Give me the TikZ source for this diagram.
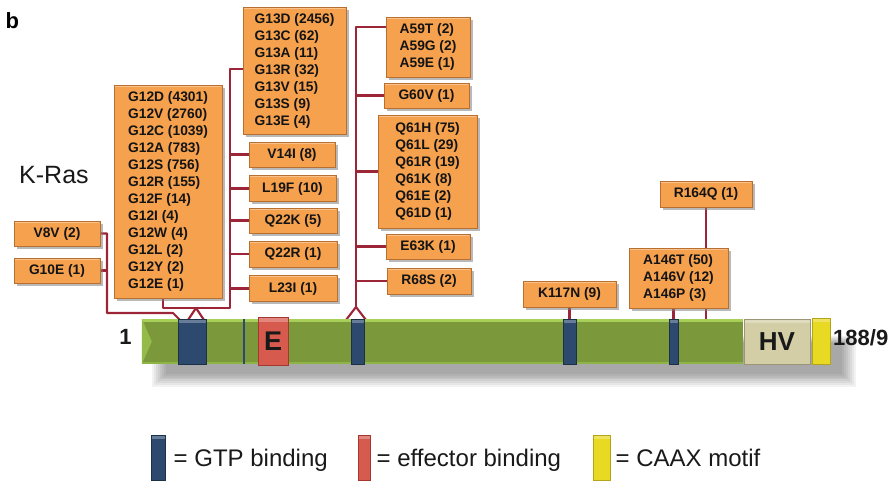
\documentclass[tikz,border=0pt]{standalone}
\usepackage{fontspec}
\setmainfont{Liberation Sans}
\usetikzlibrary{shadows}

\definecolor{mutfill}{HTML}{F6A14D}
\definecolor{mutedge}{HTML}{B87030}
\definecolor{link}{HTML}{9C2537}
\definecolor{gtpblue}{HTML}{2D4A6E}
\definecolor{gtpedge}{HTML}{1C3049}
\definecolor{effred}{HTML}{D65A4E}
\definecolor{effedge}{HTML}{A5372E}
\definecolor{hvtan}{HTML}{D4CEA7}
\definecolor{hvedge}{HTML}{9C9676}
\definecolor{caax}{HTML}{E8D923}
\definecolor{caaxedge}{HTML}{B3A517}
\definecolor{bargreen}{HTML}{7B993B}
\definecolor{barlight}{HTML}{A8CF58}
\definecolor{barbevel}{HTML}{94BA49}

\pgfdeclarelayer{back}
\pgfsetlayers{back,main}

\begin{document}
\begin{tikzpicture}[x=1pt,y=-1pt,
  mut/.style={draw=mutedge, line width=0.7pt, fill=mutfill, inner sep=0pt,
    align=left, text=black!92, font=\bfseries\fontsize{13.8}{17}\selectfont,
    drop shadow={opacity=0.55, shadow xshift=2.5pt, shadow yshift=-2.5pt},
    path picture={\draw[white,opacity=0.35,line width=1.2pt]
      ([xshift=1pt,yshift=-1pt]path picture bounding box.north west) --
      ([xshift=-1pt,yshift=-1pt]path picture bounding box.north east);}},
  conn/.style={draw=link, line width=2.1pt, line join=round},
  gloss/.style={path picture={\fill[white,opacity=0.28]
    (path picture bounding box.north west) rectangle
    ([yshift=-4pt]path picture bounding box.north east);}},
  gtpbox/.style={draw=gtpedge, line width=0.6pt, fill=gtpblue, inner sep=0pt, gloss},
  effbox/.style={draw=effedge, line width=0.6pt, fill=effred, inner sep=0pt, gloss},
  hvbox/.style={draw=hvedge, line width=0.6pt, fill=hvtan, inner sep=0pt, gloss},
  caaxbox/.style={draw=caaxedge, line width=0.6pt, fill=caax, inner sep=0pt, gloss},
  keytext/.style={inner sep=0pt, font=\fontsize{24}{24}\selectfont, text=black!90},
  endlabel/.style={inner sep=0pt, font=\bfseries\fontsize{22}{22}\selectfont, text=black!90}]

\useasboundingbox (0,0) rectangle (893,480);

% panel letter and protein name
\node[inner sep=0pt, anchor=base west, font=\bfseries\fontsize{22}{22}\selectfont] (panel) at (5.5,28) {b};
\node[inner sep=0pt, anchor=base west, font=\fontsize{25}{25}\selectfont, text=black!90] (kras) at (19,183) {K-Ras};

% mutation boxes
\node[mut, minimum width=86pt, minimum height=25pt] (v8v) at (57,233.5) {V8V (2)};
\node[mut, minimum width=86pt, minimum height=25pt] (g10e) at (57,270.5) {G10E (1)};
\node[mut, minimum width=108pt, minimum height=213pt] (g12) at (168,191.5)
  {G12D (4301)\\G12V (2760)\\G12C (1039)\\G12A (783)\\G12S (756)\\G12R (155)\\G12F (14)\\G12I (4)\\G12W (4)\\G12L (2)\\G12Y (2)\\G12E (1)};
\node[mut, minimum width=103pt, minimum height=127pt] (g13) at (294.5,70.5)
  {G13D (2456)\\G13C (62)\\G13A (11)\\G13R (32)\\G13V (15)\\G13S (9)\\G13E (4)};
\node[mut, minimum width=86pt, minimum height=25pt] (v14i) at (292,154.5) {V14I (8)};
\node[mut, minimum width=87pt, minimum height=26pt] (l19f) at (292.5,188.5) {L19F (10)};
\node[mut, minimum width=88pt, minimum height=25pt] (q22k) at (293,220.5) {Q22K (5)};
\node[mut, minimum width=88pt, minimum height=26pt] (q22r) at (293,254) {Q22R (1)};
\node[mut, minimum width=88pt, minimum height=26pt] (l23i) at (293,288.5) {L23I (1)};
\node[mut, minimum width=84pt, minimum height=60pt] (a59) at (428,47)
  {A59T (2)\\A59G (2)\\A59E (1)};
\node[mut, minimum width=85pt, minimum height=25pt] (g60v) at (426.5,95.5) {G60V (1)};
\node[mut, minimum width=99pt, minimum height=113pt] (q61) at (427.5,171.5)
  {Q61H (75)\\Q61L (29)\\Q61R (19)\\Q61K (8)\\Q61E (2)\\Q61D (1)};
\node[mut, minimum width=84pt, minimum height=25pt] (e63k) at (428,246.5) {E63K (1)};
\node[mut, minimum width=84pt, minimum height=26pt] (r68s) at (429,281) {R68S (2)};
\node[mut, minimum width=93pt, minimum height=26pt] (k117n) at (569.5,294) {K117N (9)};
\node[mut, minimum width=99pt, minimum height=60pt] (a146) at (678.5,278)
  {A146T (50)\\A146V (12)\\A146P (3)};
\node[mut, minimum width=92pt, minimum height=26pt] (r164q) at (706,194) {R164Q (1)};

% protein bar and its domains
\node[fill=bargreen, inner sep=0pt, minimum width=601pt, minimum height=45pt] (bar) at (442.5,341.5) {};
\fill[barlight] (bar.north west) rectangle ([yshift=-3pt]bar.north east);
\fill[barbevel] (bar.north west) -- ([xshift=10pt]bar.west) -- (bar.south west) -- cycle;
\fill[barbevel!80!bargreen] (bar.south west) rectangle ([yshift=2pt]bar.south east);

\node[gtpbox, minimum width=28pt, minimum height=45pt] (gtp1) at (192,341.5) {};
\node[fill=gtpblue, inner sep=0pt, minimum width=2pt, minimum height=45pt] (gtpthin) at (244,341.5) {};
\node[effbox, minimum width=30pt, minimum height=48pt, font=\bfseries\fontsize{27}{27}\selectfont, text=black!90] (eff) at (273,341.5) {E};
\node[gtpbox, minimum width=13pt, minimum height=45pt] (gtp2) at (357.5,341.5) {};
\node[gtpbox, minimum width=13pt, minimum height=45pt] (gtp3) at (569.5,341.5) {};
\node[gtpbox, minimum width=9pt, minimum height=45pt] (gtp4) at (673.5,341.5) {};
\node[hvbox, minimum width=66pt, minimum height=45pt, font=\bfseries\fontsize{26}{26}\selectfont, text=black!90] (hv) at (777,341.5) {HV};
\node[caaxbox, minimum width=18pt, minimum height=46pt] (caaxd) at (821,341) {};

\node[endlabel, anchor=base] (nterm) at (125.5,344.5) {1};
\node[endlabel, anchor=base west] (cterm) at (833,345) {188/9};

% junction points of the connector trees
\coordinate (vjoin) at (107,313);
\coordinate (vbend) at (173,313);
\coordinate (leg0) at (180,320);
\coordinate (g12foot) at (163,308);
\coordinate (apexA) at (196,308);
\coordinate (legA1) at (188,320);
\coordinate (legA2) at (204,320);
\coordinate (ltop) at (230,69);
\coordinate (lbot) at (230,308);
\coordinate (rtop) at (356,27);
\coordinate (apexB) at (356,307);
\coordinate (legB1) at (346,320);
\coordinate (legB2) at (366,320);

\begin{pgfonlayer}{back}
  % soft shadow below the protein bar
  \foreach \k in {0,...,7}
    \fill[black,opacity=0.05] ({166-2*\k},{343-\k}) rectangle ({842+2*\k},{374+1.8*\k});

  % codons 8 and 10
  \draw[conn] (v8v.east) -| (vjoin) -- (vbend) -- (leg0);
  \draw[conn] (g10e.east) -- (g10e.east -| vjoin);
  % codons 12 and 13 to 23
  \draw[conn] (g12.south -| g12foot) -- (g12foot) -- (apexA);
  \draw[conn] (ltop -| g13.west) -- (ltop) -- (lbot) -- (apexA);
  \foreach \b in {v14i,l19f,q22k,q22r,l23i}
    \draw[conn] (\b.west -| ltop) -- (\b.west);
  \draw[conn] (legA1) -- (apexA) -- (legA2);
  % codons 59 to 68
  \draw[conn] (rtop -| a59.west) -- (rtop) -- (apexB);
  \foreach \b in {g60v,q61,e63k,r68s}
    \draw[conn] (\b.west -| rtop) -- (\b.west);
  \draw[conn] (legB1) -- (apexB) -- (legB2);
  % codons 117, 146 and 164
  \draw[conn] (k117n.south) -- (k117n.south |- bar.north);
  \draw[conn] (a146.south -| gtp4.north) -- (gtp4.north);
  \draw[conn] (r164q.south) -- (r164q.south |- bar.north);
\end{pgfonlayer}

% legend
\node[gtpbox, minimum width=14pt, minimum height=45pt] (keygtp) at (158,457.5) {};
\node[keytext, anchor=base west] (keygtptxt) at (173.5,466.5) {= GTP binding};
\node[effbox, minimum width=12pt, minimum height=45pt] (keyeff) at (364,457.5) {};
\node[keytext, anchor=base west] (keyefftxt) at (376.5,466.5) {= effector binding};
\node[caaxbox, minimum width=17pt, minimum height=45pt] (keycaax) at (601.5,457.5) {};
\node[keytext, anchor=base west] (keycaaxtxt) at (615.5,466.5) {= CAAX motif};

\end{tikzpicture}
\end{document}
